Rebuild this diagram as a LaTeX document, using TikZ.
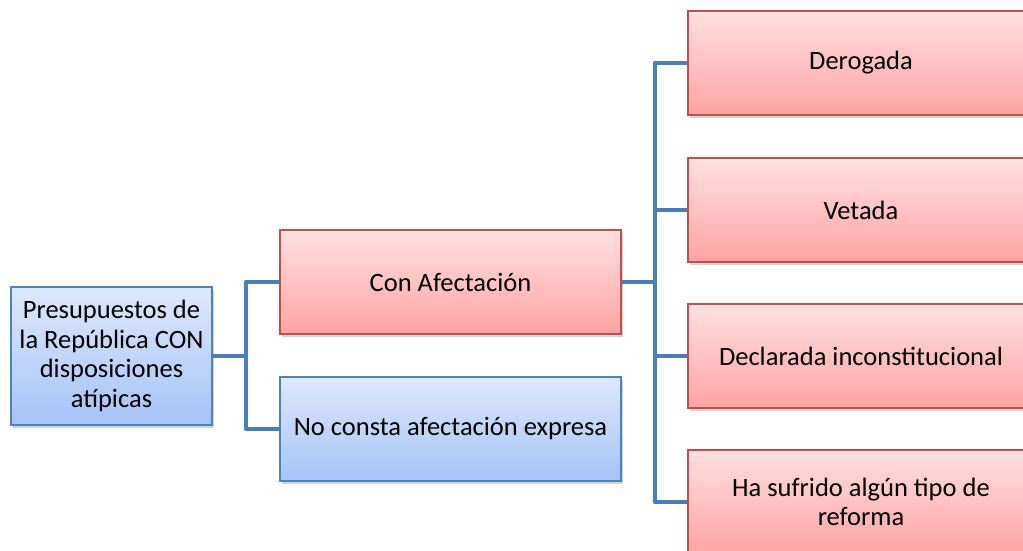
\documentclass[tikz,border=0pt]{standalone}
\usepackage{fontspec}
\setmainfont{Carlito}
\usetikzlibrary{shadows}
\definecolor{linec}{HTML}{4A7EBB}
\definecolor{redb}{HTML}{C0504D}
\definecolor{redt}{HTML}{FFE0E0}
\definecolor{redbot}{HTML}{FFA3A3}
\definecolor{blueb}{HTML}{4F81BD}
\definecolor{bluet}{HTML}{DDE8FB}
\definecolor{bluebot}{HTML}{A5C3F7}
\tikzset{
  box/.style={rectangle, align=center, font=\fontsize{26.5}{29.5}\selectfont, inner sep=2pt, line width=1.2pt,
    drop shadow={opacity=0.35, shadow xshift=1.5pt, shadow yshift=-2.5pt}},
  redbox/.style={box, draw=redb, top color=redt, bottom color=redbot},
  bluebox/.style={box, draw=blueb, top color=bluet, bottom color=bluebot},
  conn/.style={draw=linec, line width=4.8pt, line join=round}
}
\begin{document}
\begin{tikzpicture}[x=1pt,y=-1pt]
\useasboundingbox (0,0) rectangle (1023,550);
\clip (0,0) rectangle (1023,550);
\node[bluebox, minimum width=201pt, minimum height=138pt] (root) at (111.5,356) {Presupuestos de\\la República CON\\disposiciones\\atípicas};
\node[redbox, minimum width=341pt, minimum height=104pt] (con) at (450.5,282) {Con Afectación};
\node[bluebox, minimum width=341pt, minimum height=104pt] (no) at (450.5,429) {No consta afectación expresa};
\node[redbox, minimum width=346pt, minimum height=104pt] (der) at (861,63) {Derogada};
\node[redbox, minimum width=346pt, minimum height=104pt] (vet) at (861,210) {Vetada};
\node[redbox, minimum width=346pt, minimum height=104pt] (dec) at (861,356) {Declarada inconstitucional};
\node[redbox, minimum width=346pt, minimum height=104pt] (ref) at (861,502) {Ha sufrido algún tipo de\\reforma};
\coordinate (j1) at (246,356);
\coordinate (j2) at (655,282);
\draw[conn] (root.east) -- (j1);
\draw[conn] (con.west) -| (j1) |- (no.west);
\draw[conn] (con.east) -- (j2);
\draw[conn] (der.west) -| (j2) |- (ref.west);
\draw[conn] (vet.west) -- (vet.west -| j2);
\draw[conn] (dec.west) -- (dec.west -| j2);
\end{tikzpicture}
\end{document}
